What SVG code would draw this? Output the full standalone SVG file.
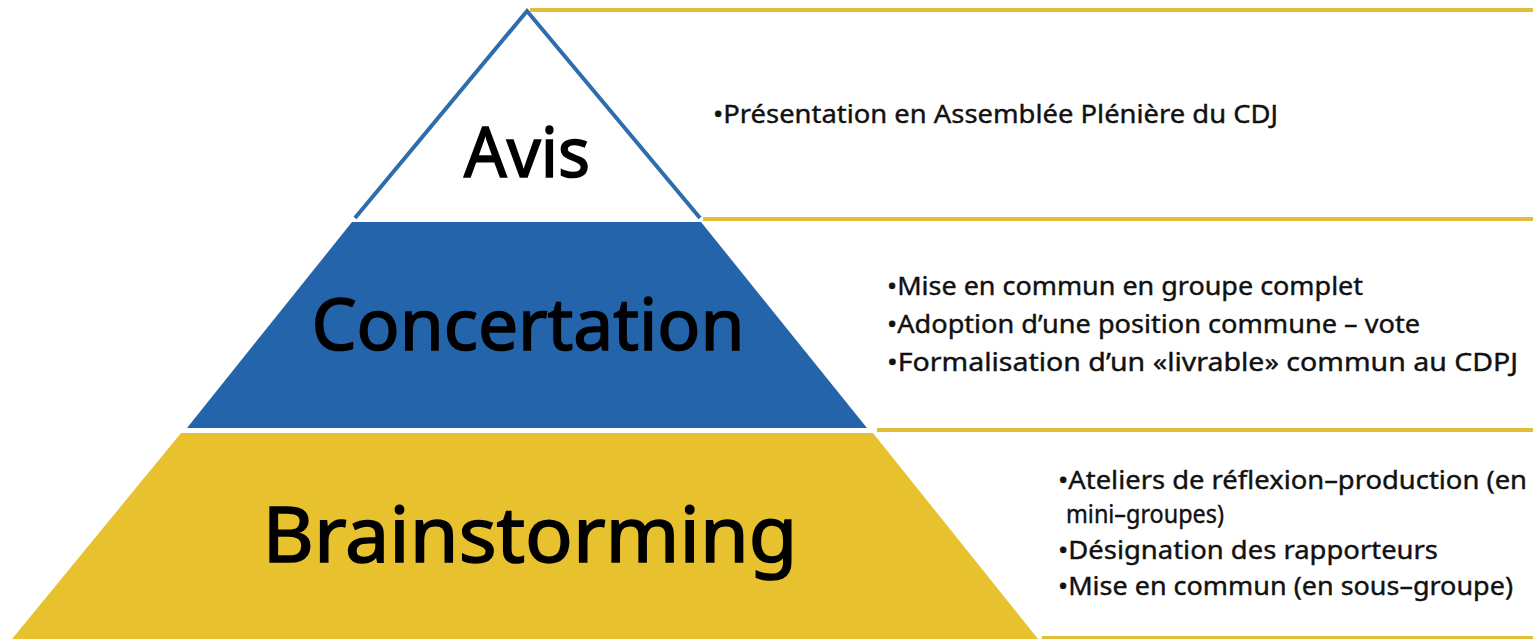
<svg xmlns="http://www.w3.org/2000/svg" width="1533" height="639" viewBox="0 0 1533 639">
<style>
.title{font-family:"Noto Sans","Open Sans",sans-serif;fill:#000;text-anchor:middle;stroke:#000;stroke-width:1.6}
.item{font-family:"Noto Sans","Open Sans",sans-serif;font-size:26px;fill:#111;stroke:#111;stroke-width:0.4}
.rule{stroke:#E2BF38;stroke-width:4;fill:none}
</style>
<rect width="1533" height="639" fill="#fff"/>
<g id="connectors">
<line class="rule" x1="530" y1="10" x2="1533" y2="10"/>
<line class="rule" x1="703" y1="219" x2="1533" y2="219"/>
<line class="rule" x1="877" y1="430" x2="1533" y2="430"/>
<line class="rule" x1="1042" y1="638" x2="1533" y2="638" stroke-width="3"/>
</g>
<g id="avis">
<polygon points="527,11 355,218 700,218" fill="#fff"/>
<polyline points="355,218 527,11 700,218" fill="none" stroke="#2E6CB0" stroke-width="4" stroke-linejoin="miter"/>
<text class="title" x="527" y="177" font-size="70" textLength="126" lengthAdjust="spacingAndGlyphs">Avis</text>
</g>
<g id="concertation">
<polygon points="352,222 701,222 867,428 187,428" fill="#2364AA"/>
<text class="title" x="528" y="350" font-size="72" textLength="433" lengthAdjust="spacingAndGlyphs">Concertation</text>
</g>
<g id="brainstorming">
<polygon points="181,433 873,433 1038,639 12,639" fill="#E8C12E"/>
<text class="title" x="530" y="562" font-size="76" textLength="535" lengthAdjust="spacingAndGlyphs">Brainstorming</text>
</g>
<g id="avis-text">
<text class="item" x="713" y="123" textLength="565" lengthAdjust="spacingAndGlyphs">•Présentation en Assemblée Plénière du CDJ</text>
</g>
<g id="concertation-text">
<text class="item" x="887" y="295" textLength="476" lengthAdjust="spacingAndGlyphs">•Mise en commun en groupe complet</text>
<text class="item" x="887" y="333" textLength="533" lengthAdjust="spacingAndGlyphs">•Adoption d’une position commune – vote</text>
<text class="item" x="887" y="371" textLength="631" lengthAdjust="spacingAndGlyphs">•Formalisation d’un «livrable» commun au CDPJ</text>
</g>
<g id="brainstorming-text">
<text class="item" x="1058" y="489" textLength="469" lengthAdjust="spacingAndGlyphs">•Ateliers de réflexion–production (en</text>
<text class="item" x="1066" y="523" textLength="158" lengthAdjust="spacingAndGlyphs">mini–groupes)</text>
<text class="item" x="1058" y="559" textLength="380" lengthAdjust="spacingAndGlyphs">•Désignation des rapporteurs</text>
<text class="item" x="1058" y="595" textLength="455" lengthAdjust="spacingAndGlyphs">•Mise en commun (en sous–groupe)</text>
</g>
</svg>
